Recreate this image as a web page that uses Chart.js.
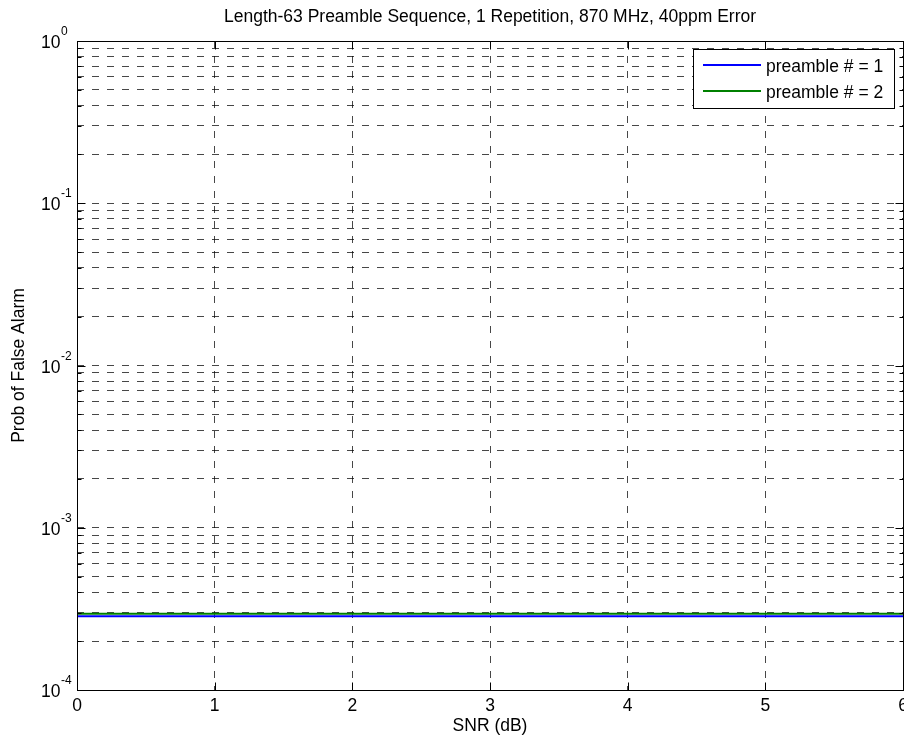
<!DOCTYPE html>
<html>
<head>
<meta charset="utf-8">
<title>Prob of False Alarm</title>
<script src="https://cdn.jsdelivr.net/npm/chart.js@4.4.1/dist/chart.umd.min.js"></script>
<style>
  html, body { margin: 0; padding: 0; background: #fff; }
  #wrap { width: 904px; height: 742px; }
</style>
</head>
<body>
<div id="wrap"><canvas id="pfaChart" width="904" height="742"></canvas></div>
<script>
// SNR sweep (dB) and false alarm probability per preamble
const snrDb = [0, 1, 2, 3, 4, 5, 6];
const pfaPreamble1 = [2.85e-4, 2.85e-4, 2.85e-4, 2.85e-4, 2.85e-4, 2.85e-4, 2.85e-4];
const pfaPreamble2 = [2.95e-4, 2.95e-4, 2.95e-4, 2.95e-4, 2.95e-4, 2.95e-4, 2.95e-4];
const seriesLabels = ['preamble # = 1', 'preamble # = 2'];
const seriesColors = ['#0000ff', '#008000'];

// axis ticks
const xTicks = [0, 1, 2, 3, 4, 5, 6];
const yDecades = [1e-4, 1e-3, 1e-2, 1e-1, 1];
const yExponents = ['-4', '-3', '-2', '-1', '0'];
const yMinorSteps = [2, 3, 4, 5, 6, 7, 8, 9];

const titleText = 'Length-63 Preamble Sequence, 1 Repetition, 870 MHz, 40ppm Error';
const xTitle = 'SNR (dB)';
const yTitle = 'Prob of False Alarm';

const FONT = "'Liberation Sans', Arial, Helvetica, sans-serif";
const fontSize = 17.5;

// draws the matlab style box, inward ticks, labels and legend
const matlabFrame = {
    id: 'matlabFrame',
    afterDraw(chart) {
        const ctx = chart.ctx;
        const a = chart.chartArea;
        const x = chart.scales.x;
        const y = chart.scales.y;
        const L = Math.round(a.left) + 0.5;
        const R = Math.round(a.right) + 0.5;
        const T = Math.round(a.top) + 0.5;
        const B = Math.round(a.bottom) + 0.5;

        ctx.save();
        ctx.strokeStyle = '#000';
        ctx.lineWidth = 1;
        ctx.setLineDash([]);
        ctx.strokeRect(L, T, R - L, B - T);

        // inward ticks
        ctx.beginPath();
        y.ticks.forEach(t => {
            const py = Math.round(y.getPixelForValue(t.value)) + 0.5;
            const len = t.major ? 8 : 4;
            ctx.moveTo(L, py); ctx.lineTo(L + len, py);
            ctx.moveTo(R, py); ctx.lineTo(R - len, py);
        });
        x.ticks.forEach(t => {
            const px = Math.round(x.getPixelForValue(t.value)) + 0.5;
            ctx.moveTo(px, B); ctx.lineTo(px, B - 8);
            ctx.moveTo(px, T); ctx.lineTo(px, T + 8);
        });
        ctx.stroke();

        ctx.fillStyle = '#000';
        ctx.font = fontSize + 'px ' + FONT;

        // title
        ctx.textAlign = 'center';
        ctx.textBaseline = 'alphabetic';
        ctx.fillText(titleText, (a.left + a.right) / 2, 22);

        // x tick labels and title
        xTicks.forEach(v => {
            ctx.fillText(String(v), x.getPixelForValue(v), 711);
        });
        ctx.fillText(xTitle, (a.left + a.right) / 2, 731);

        // y tick labels 10^n
        yDecades.forEach((v, i) => {
            const py = y.getPixelForValue(v);
            ctx.font = fontSize + 'px ' + FONT;
            ctx.textAlign = 'left';
            ctx.fillText('10', 41, py + 7);
            const w = ctx.measureText('10').width;
            ctx.font = '12px ' + FONT;
            ctx.fillText(yExponents[i], 41 + w + 0.5, py - 6);
        });

        // y title
        ctx.font = fontSize + 'px ' + FONT;
        ctx.save();
        ctx.translate(24, (a.top + a.bottom) / 2);
        ctx.rotate(-Math.PI / 2);
        ctx.textAlign = 'center';
        ctx.fillText(yTitle, 0, 0);
        ctx.restore();

        // legend box
        const bx = 693.5, by = 49.5, bw = 201, bh = 59;
        ctx.fillStyle = '#fff';
        ctx.fillRect(bx, by, bw, bh);
        ctx.strokeStyle = '#000';
        ctx.strokeRect(bx, by, bw, bh);
        seriesLabels.forEach((lab, i) => {
            const ry = 65 + i * 26;
            ctx.strokeStyle = seriesColors[i];
            ctx.lineWidth = 2;
            ctx.beginPath();
            ctx.moveTo(703, ry);
            ctx.lineTo(761, ry);
            ctx.stroke();
            ctx.fillStyle = '#000';
            ctx.textAlign = 'left';
            ctx.fillText(lab, 766, ry + 6.5);
        });
        ctx.restore();
    }
};

const ctx = document.getElementById('pfaChart').getContext('2d');

new Chart(ctx, {
    type: 'line',
    data: {
        datasets: [
            {
                label: seriesLabels[1],
                data: snrDb.map((s, i) => ({ x: s, y: pfaPreamble2[i] })),
                borderColor: seriesColors[1],
                borderWidth: 2,
                pointRadius: 0,
                fill: false,
            },
            {
                label: seriesLabels[0],
                data: snrDb.map((s, i) => ({ x: s, y: pfaPreamble1[i] })),
                borderColor: seriesColors[0],
                borderWidth: 2,
                pointRadius: 0,
                fill: false,
            }
        ]
    },
    options: {
        responsive: false,
        animation: false,
        devicePixelRatio: 1,
        layout: { padding: { top: 41, right: 1, left: 0, bottom: 0 } },
        plugins: {
            legend: { display: false },
            tooltip: { enabled: false },
            title: { display: false }
        },
        scales: {
            x: {
                type: 'linear',
                min: 0,
                max: 6,
                afterBuildTicks: scale => { scale.ticks = xTicks.map(v => ({ value: v })); },
                afterFit: scale => { scale.height = 52; },
                ticks: { display: false },
                grid: { color: 'rgba(0,0,0,0.72)', lineWidth: 1, drawTicks: false },
                border: { display: false, dash: [7, 8] }
            },
            y: {
                type: 'logarithmic',
                min: 1e-4,
                max: 1,
                afterBuildTicks: scale => {
                    const list = [];
                    yDecades.forEach(d => {
                        list.push({ value: d, major: true });
                        if (d < 1) yMinorSteps.forEach(s => list.push({ value: s * d, major: false }));
                    });
                    scale.ticks = list;
                },
                afterFit: scale => { scale.width = 77; },
                ticks: { display: false },
                grid: { color: 'rgba(0,0,0,0.72)', lineWidth: 1, drawTicks: false },
                border: { display: false, dash: [7, 8] }
            }
        }
    },
    plugins: [matlabFrame]
});
</script>
</body>
</html>
